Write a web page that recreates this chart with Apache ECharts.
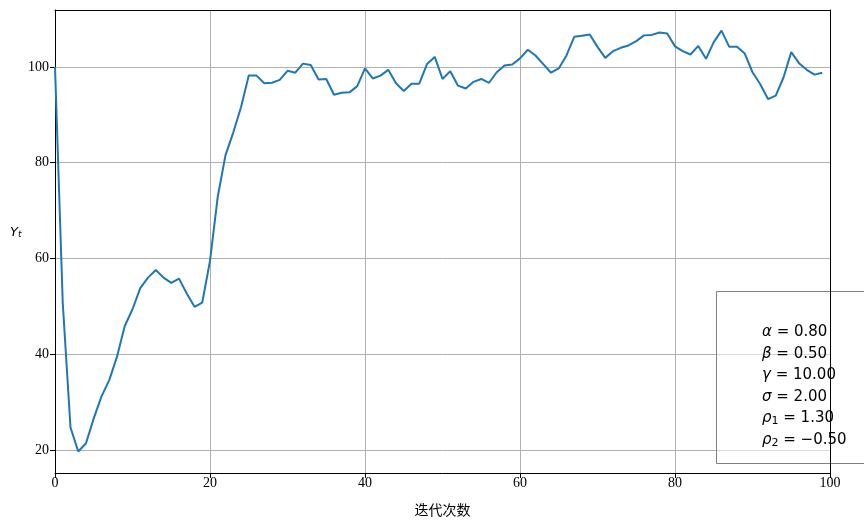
<!DOCTYPE html>
<html>
<head>
<meta charset="utf-8">
<script src="https://cdn.jsdelivr.net/npm/echarts@6/dist/echarts.min.js"></script>
<style>html,body{margin:0;padding:0;background:#fff}#c{width:864px;height:529px}</style>
</head>
<body>
<div id="c"></div>
<script>
const yValues = [100, 50.7, 24.7, 19.7, 21.4, 26.6, 31.2, 34.6, 39.5, 45.9,
  49.4, 53.8, 56.0, 57.6, 56.0, 54.9, 55.8, 52.7, 49.9, 50.8,
  59.5, 72.9, 81.6, 86.3, 91.6, 98.2, 98.2, 96.6, 96.7, 97.3,
  99.2, 98.8, 100.7, 100.4, 97.4, 97.5, 94.2, 94.6, 94.7, 96.0,
  99.7, 97.6, 98.2, 99.4, 96.6, 95.0, 96.5, 96.5, 100.6, 102.1,
  97.5, 99.1, 96.1, 95.5, 96.9, 97.5, 96.7, 98.9, 100.3, 100.5,
  101.8, 103.6, 102.4, 100.6, 98.8, 99.7, 102.4, 106.3, 106.5, 106.8,
  104.2, 101.9, 103.3, 104.0, 104.5, 105.4, 106.6, 106.7, 107.2, 107.0,
  104.3, 103.3, 102.6, 104.4, 101.7, 105.2, 107.6, 104.2, 104.2, 102.8,
  98.9, 96.4, 93.3, 94.0, 97.8, 103.1, 100.8, 99.4, 98.4, 98.8];
const xLabel = '迭代次数';
const paramLines = [
  ['α', '', '0.80'],
  ['β', '', '0.50'],
  ['γ', '', '10.00'],
  ['σ', '', '2.00'],
  ['ρ', '1', '1.30'],
  ['ρ', '2', '−0.50']
];

const seriesData = yValues.map((v, i) => [i, v]);
const chart = echarts.init(document.getElementById('c'), null, {renderer: 'canvas'});
const serif = '"Liberation Serif", "DejaVu Serif", serif';
const lineTop = 334, lineStep = 21.5;
const textEls = paramLines.map((p, k) => ({
  type: 'text',
  left: 762,
  top: lineTop + k * lineStep - 9,
  z: 20,
  style: {
    text: '{g|' + p[0] + '}' + (p[1] ? '{s|' + p[1] + '}' : '') + '{n| = ' + p[2] + '}',
    rich: {
      g: {fontFamily: '"DejaVu Sans"', fontStyle: 'italic', fontSize: 15, fill: '#000'},
      s: {fontFamily: '"DejaVu Sans"', fontSize: 11, fill: '#000', padding: [6, 0, 0, 0]},
      n: {fontFamily: '"DejaVu Sans"', fontSize: 15, fill: '#000'}
    }
  }
}));

chart.setOption({
  animation: false,
  backgroundColor: '#fff',
  grid: {left: 55, right: 34, top: 10, bottom: 56},
  xAxis: [{
    type: 'value', min: 0, max: 100, interval: 20,
    name: xLabel, nameLocation: 'middle', nameGap: 30,
    nameTextStyle: {fontFamily: '"Noto Sans CJK SC"', fontSize: 14, color: '#000'},
    axisLine: {show: true, onZero: false, lineStyle: {color: '#000', width: 1}},
    axisTick: {show: true, length: 5, lineStyle: {color: '#000'}},
    axisLabel: {color: '#000', fontFamily: serif, fontSize: 14, margin: 3},
    splitLine: {show: true, lineStyle: {color: '#b0b0b0', width: 1}}
  }, {
    type: 'value', position: 'top', min: 0, max: 100,
    axisLine: {show: true, onZero: false, lineStyle: {color: '#000'}},
    axisTick: {show: false}, axisLabel: {show: false}, splitLine: {show: false}, z: 30
  }],
  yAxis: [{
    type: 'value', min: 15.2, max: 111.9, splitNumber: 5,
    axisLine: {show: true, onZero: false, lineStyle: {color: '#000', width: 1}},
    axisTick: {show: true, length: 5, lineStyle: {color: '#000'}},
    axisLabel: {color: '#000', fontFamily: serif, fontSize: 14, margin: 6, showMinLabel: false, showMaxLabel: false},
    splitLine: {show: true, lineStyle: {color: '#b0b0b0', width: 1}}
  }, {
    type: 'value', position: 'right', min: 15.2, max: 111.9,
    axisLine: {show: true, onZero: false, lineStyle: {color: '#000'}},
    axisTick: {show: false}, axisLabel: {show: false}, splitLine: {show: false}, z: 30
  }],
  series: [{
    type: 'line', data: seriesData, xAxisIndex: 0, yAxisIndex: 0,
    showSymbol: false, symbol: 'none',
    lineStyle: {color: '#1f77b4', width: 2},
    z: 3
  }],
  graphic: [
    {
      type: 'rect', left: 716, top: 291, z: 10,
      shape: {width: 160, height: 172},
      style: {fill: 'rgba(255,255,255,0.5)', stroke: '#808080', lineWidth: 1}
    },
    {
      type: 'text', left: 10, top: 226, z: 20,
      style: {
        text: '{y|Y}{t|t}',
        rich: {
          y: {fontFamily: '"DejaVu Sans"', fontStyle: 'italic', fontSize: 13, fill: '#000'},
          t: {fontFamily: '"DejaVu Sans"', fontStyle: 'italic', fontSize: 9, fill: '#000', padding: [5, 0, 0, 0]}
        }
      }
    }
  ].concat(textEls)
});
</script>
</body>
</html>
